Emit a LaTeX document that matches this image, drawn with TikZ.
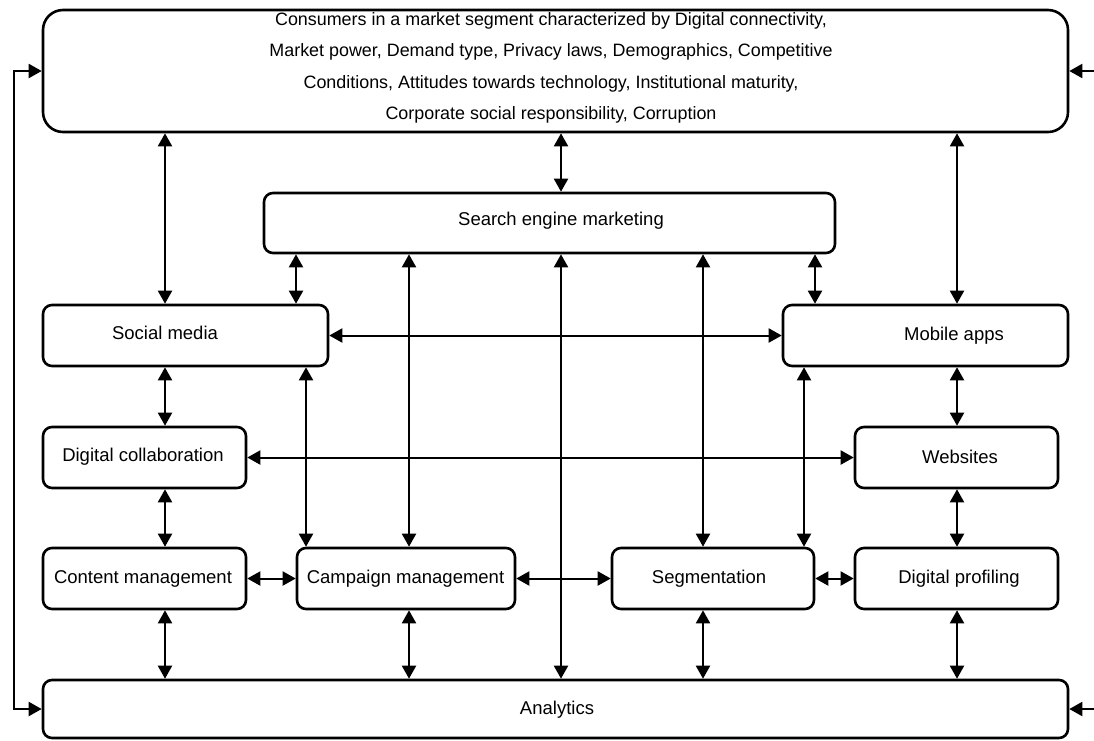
\documentclass[tikz,border=0pt]{standalone}
\usepackage{fontspec}
\setmainfont{Liberation Sans}
\usetikzlibrary{arrows.meta}
\begin{document}
\begin{tikzpicture}[x=1pt,y=-1pt,
  box/.style={draw, line width=2.6pt, rectangle, rounded corners=9pt, inner sep=0pt, minimum height=61pt},
  bigbox/.style={box, rounded corners=20pt},
  txt/.style={font=\fontsize{18.5}{31}\selectfont, inner sep=0pt, align=center},
  conn/.style={line width=2pt, {Triangle[length=13pt,width=14pt]}-{Triangle[length=13pt,width=14pt]}},
  oneway/.style={line width=2pt, -{Triangle[length=13pt,width=14pt]}}
]
\useasboundingbox (0,0) rectangle (1094,740);
% boxes
\node[bigbox, minimum width=1025pt, minimum height=122pt] (top) at (555.5,71) {};
\node[box, minimum width=571pt, minimum height=60pt] (sem) at (549.5,223) {};
\node[box, minimum width=285pt] (sm) at (185.5,335.5) {};
\node[box, minimum width=285pt] (ma) at (925.5,335.5) {};
\node[box, minimum width=203pt] (dc) at (144.5,457.5) {};
\node[box, minimum width=203pt] (ws) at (956.5,457.5) {};
\node[box, minimum width=203pt] (cm) at (144.5,578.5) {};
\node[box, minimum width=218pt] (cp) at (406,578.5) {};
\node[box, minimum width=202pt] (sg) at (713,578.5) {};
\node[box, minimum width=203pt] (dp) at (956.5,578.5) {};
\node[box, minimum width=1025pt, minimum height=58pt] (an) at (555.5,709) {};
% labels
\node[txt, font=\fontsize{17.9}{31.3}\selectfont] (ttop) at (551,68) {Consumers in a market segment characterized by Digital connectivity,\\Market power, Demand type, Privacy laws, Demographics, Competitive\\Conditions, Attitudes towards technology, Institutional maturity,\\Corporate social responsibility, Corruption};
\node[txt] (tsem) at (561,221) {Search engine marketing};
\node[txt] (tsm) at (165,333) {Social media};
\node[txt] (tma) at (954,336) {Mobile apps};
\node[txt] (tdc) at (143,457) {Digital collaboration};
\node[txt] (tws) at (960,457) {Websites};
\node[txt] (tcm) at (143,579) {Content management};
\node[txt] (tcp) at (405.5,579) {Campaign management};
\node[txt] (tsg) at (709,579) {Segmentation};
\node[txt] (tdp) at (959,579) {Digital profiling};
\node[txt] (tan) at (557,710) {Analytics};
% column coordinates
\coordinate (c165) at (165,0);
\coordinate (c296) at (296,0);
\coordinate (c306) at (306,0);
\coordinate (c409) at (409,0);
\coordinate (c561) at (561,0);
\coordinate (c703) at (703,0);
\coordinate (c804) at (804,0);
\coordinate (c815) at (815,0);
\coordinate (c957) at (957,0);
\coordinate (fb) at (14,0);
\coordinate (rt) at (1094,0);
% vertical connectors
\draw[conn] (top.south -| c165) -- (sm.north -| c165);
\draw[conn] (top.south -| c561) -- (sem.north -| c561);
\draw[conn] (top.south -| c957) -- (ma.north -| c957);
\draw[conn] (sem.south -| c296) -- (sm.north -| c296);
\draw[conn] (sem.south -| c409) -- (cp.north -| c409);
\draw[conn] (sem.south -| c561) -- (an.north -| c561);
\draw[conn] (sem.south -| c703) -- (sg.north -| c703);
\draw[conn] (sem.south -| c815) -- (ma.north -| c815);
\draw[conn] (sm.south -| c165) -- (dc.north -| c165);
\draw[conn] (sm.south -| c306) -- (cp.north -| c306);
\draw[conn] (ma.south -| c957) -- (ws.north -| c957);
\draw[conn] (ma.south -| c804) -- (sg.north -| c804);
\draw[conn] (dc.south -| c165) -- (cm.north -| c165);
\draw[conn] (ws.south -| c957) -- (dp.north -| c957);
\draw[conn] (cm.south -| c165) -- (an.north -| c165);
\draw[conn] (cp.south -| c409) -- (an.north -| c409);
\draw[conn] (sg.south -| c703) -- (an.north -| c703);
\draw[conn] (dp.south -| c957) -- (an.north -| c957);
% horizontal connectors
\draw[conn] (sm.east) -- (ma.west);
\draw[conn] (dc.east) -- (ws.west);
\draw[conn] (cm.east) -- (cp.west);
\draw[conn] (cp.east) -- (sg.west);
\draw[conn] (sg.east) -- (dp.west);
% feedback and side arrows
\draw[conn] (an.west) -- (an.west -| fb) -- (top.west -| fb) -- (top.west);
\draw[oneway] (top.east -| rt) -- (top.east);
\draw[oneway] (an.east -| rt) -- (an.east);
\end{tikzpicture}
\end{document}
